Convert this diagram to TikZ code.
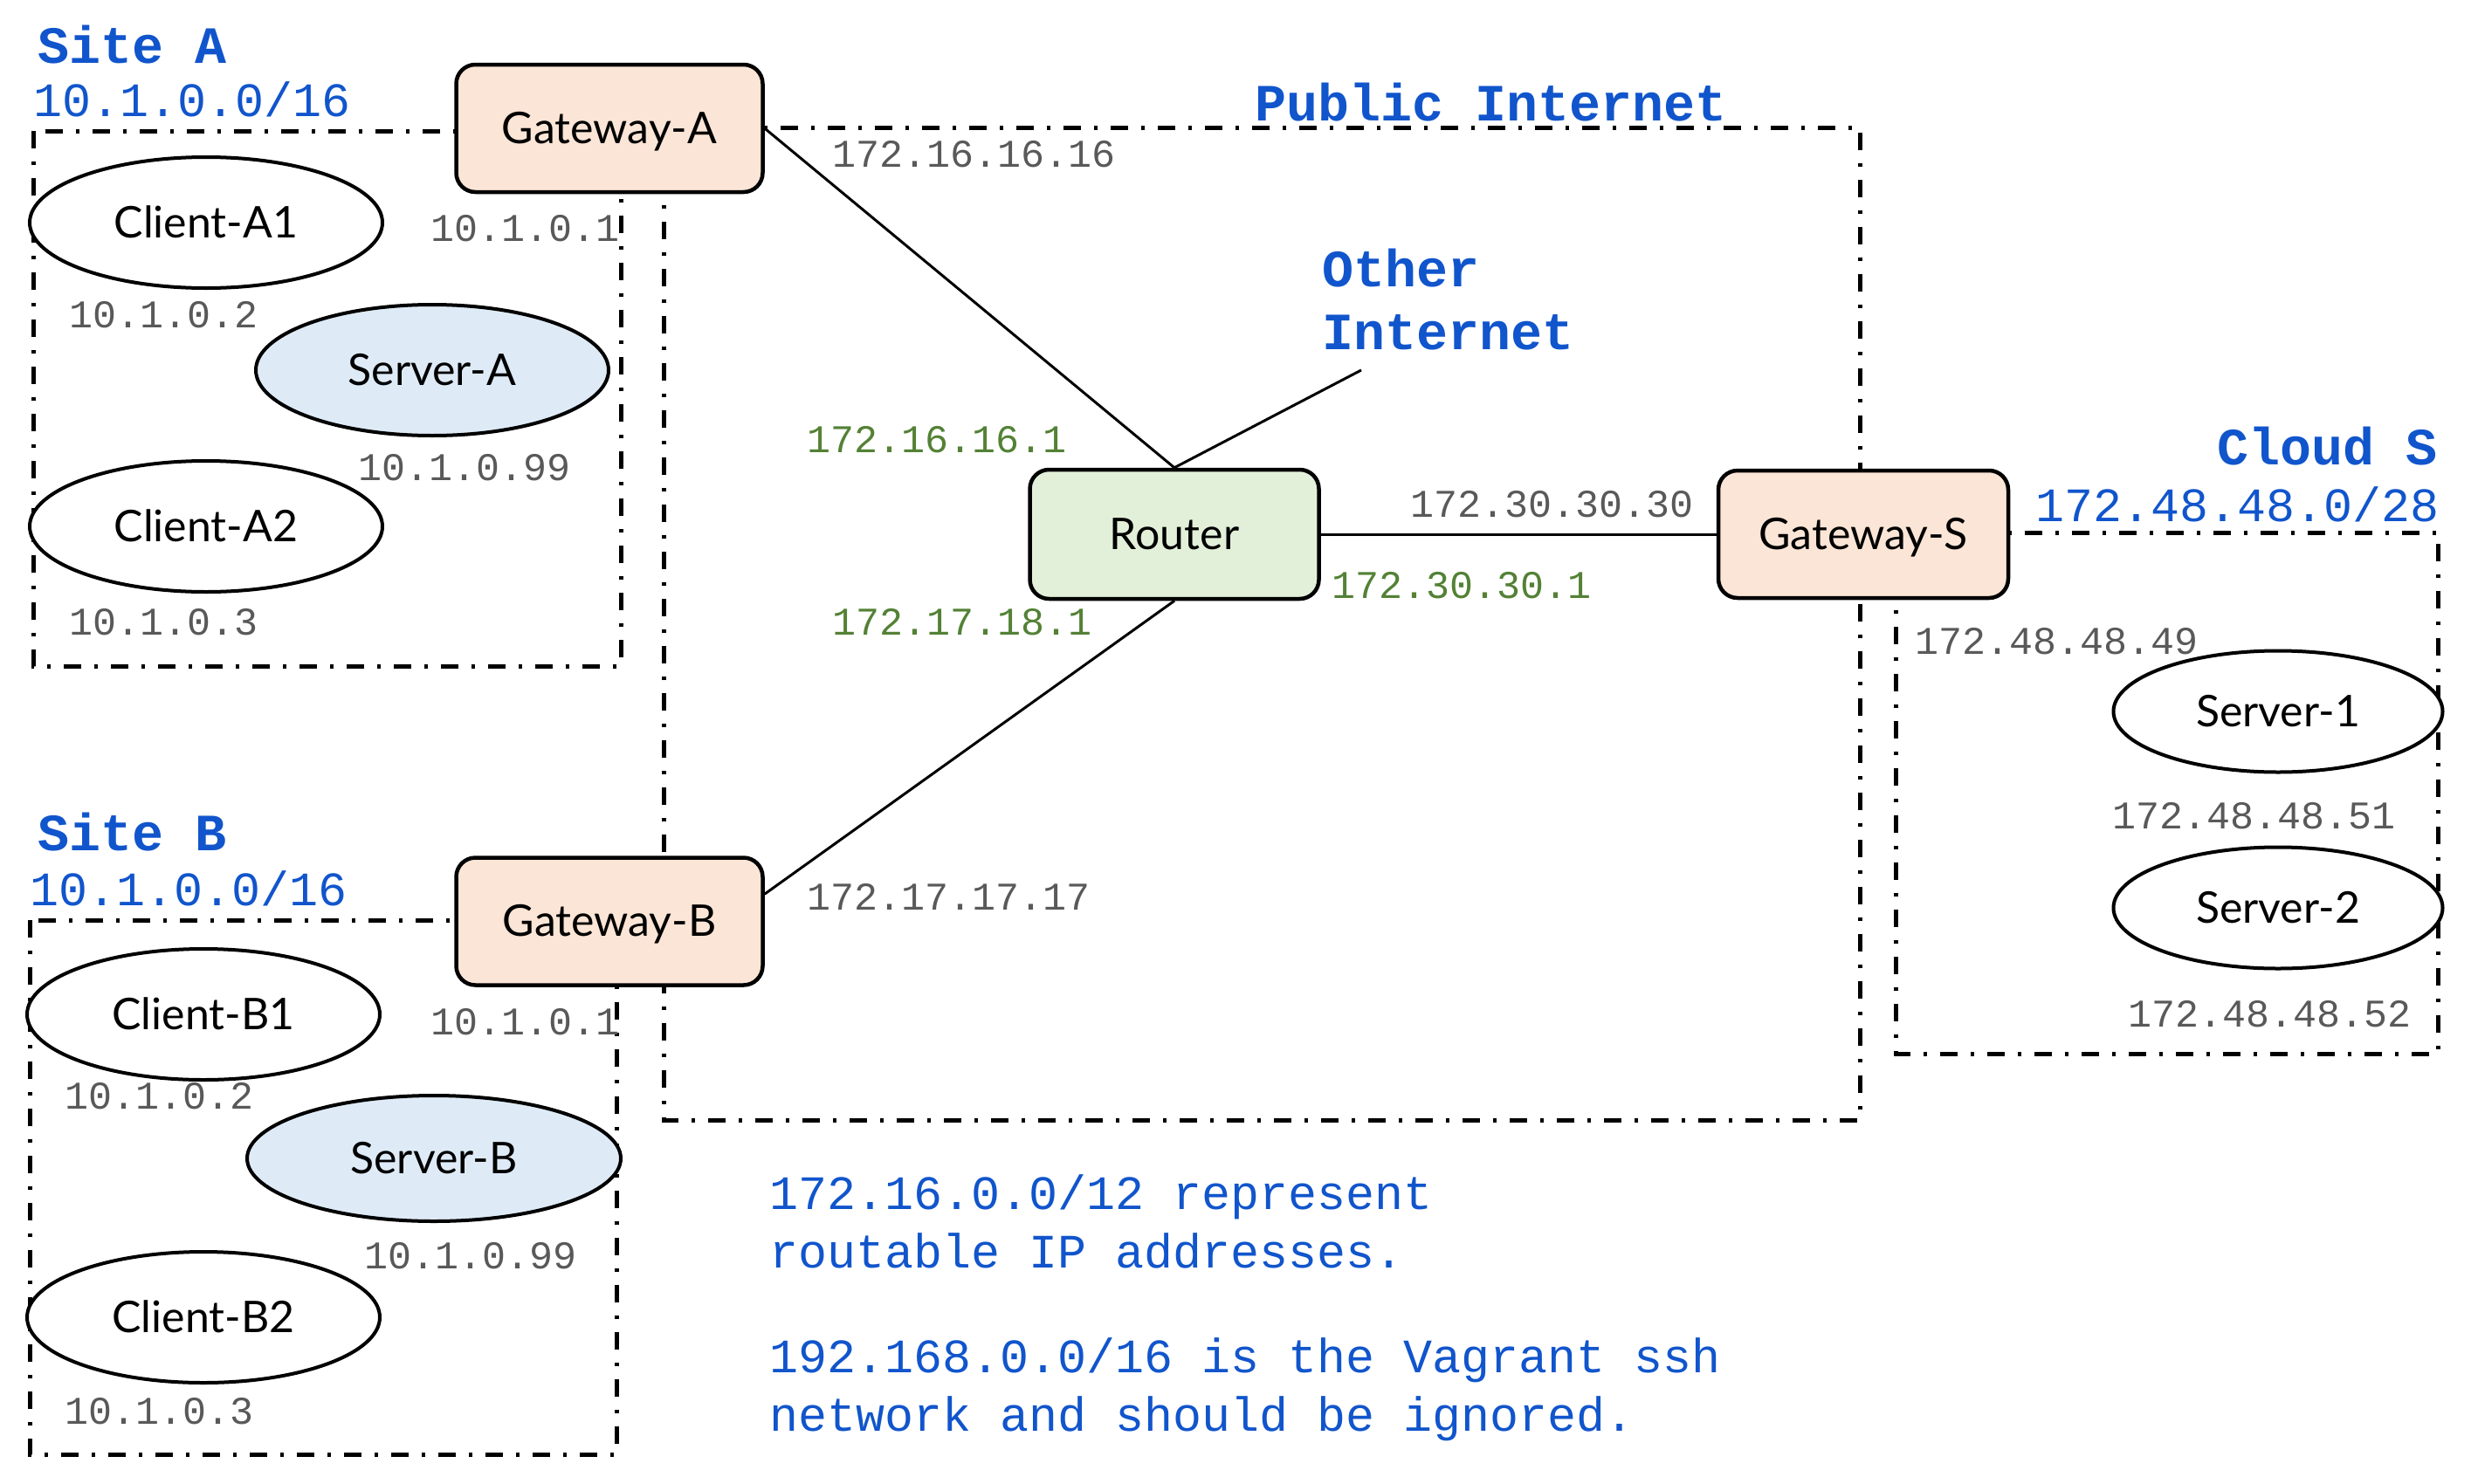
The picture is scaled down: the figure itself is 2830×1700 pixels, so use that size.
\documentclass[tikz,border=0pt]{standalone}
\usepackage{fontspec}
\setmainfont{Lato}
\newfontfamily\ipfont{Liberation Mono}
\usetikzlibrary{positioning,shapes.geometric}

\definecolor{netblue}{HTML}{1155CC}
\definecolor{ipgray}{HTML}{595959}
\definecolor{ipgreen}{HTML}{538135}
\definecolor{gwfill}{HTML}{FBE5D6}
\definecolor{rtfill}{HTML}{E2F0D9}
\definecolor{srvfill}{HTML}{DEEBF7}

\tikzset{
  box/.style={draw, line width=4.5pt, rounded corners=22pt, inner sep=0pt,
    minimum height=146pt, text height=34pt, text depth=0pt,
    font=\fontsize{50}{60}\selectfont},
  gateway/.style={box, fill=gwfill, minimum width=351pt},
  router/.style={box, fill=rtfill, minimum width=331pt, minimum height=148pt},
  host/.style={ellipse, draw, line width=4pt, fill=white, inner sep=0pt,
    minimum width=404pt, minimum height=150pt, text height=34pt, text depth=0pt,
    font=\fontsize{50}{60}\selectfont},
  server/.style={host, fill=srvfill},
  zone/.style={line width=5pt, dash pattern=on 20pt off 15pt on 4pt off 15pt},
  link/.style={line width=3pt},
  ip/.style={text=ipgray, anchor=west, inner sep=0pt, font=\ipfont\fontsize{45}{54}\selectfont},
  ipin/.style={ip, text=ipgreen},
  zonename/.style={text=netblue, anchor=west, inner sep=0pt, align=left,
    font=\ipfont\bfseries\fontsize{60}{72}\selectfont},
  subnet/.style={text=netblue, anchor=west, inner sep=0pt, align=left,
    font=\ipfont\fontsize{55}{67}\selectfont}
}

\begin{document}
\begin{tikzpicture}[x=1pt, y=-1pt]
    \useasboundingbox (0,0) rectangle (2830,1700);

    % zones
    \draw[zone] (38,150) rectangle (711,763); % site A
    \draw[zone] (34,1054) rectangle (706,1666); % site B
    \draw[zone] (760,146) rectangle (2130,1283); % public internet
    \draw[zone] (2171,610) rectangle (2792,1207); % cloud S

    % gateways and router
    \node[gateway] (gwa) at (698,147) {Gateway-A}; % site A gateway
    \node[gateway, below=758pt of gwa] (gwb) {Gateway-B}; % site B gateway
    \node[router] (router) at (1345,612) {Router}; % internet router
    \node[gateway, minimum width=332pt, right=453pt of router] (gws) {Gateway-S}; % cloud gateway
    \coordinate (other) at (1559,424); % towards other internet

    % hosts
    \node[host] (ca1) at (236,255) {Client-A1};
    \node[server] (sa) at (495,424) {Server-A};
    \node[host] (ca2) at (236,603) {Client-A2};
    \node[host] (cb1) at (233,1162) {Client-B1};
    \node[server, minimum width=428pt, minimum height=144pt] (sb) at (497,1327) {Server-B};
    \node[host] (cb2) at (233,1509) {Client-B2};
    \node[host, minimum width=377pt, minimum height=139pt] (s1) at (2609,815) {Server-1};
    \node[host, minimum width=377pt, minimum height=139pt] (s2) at (2609,1040) {Server-2};

    \draw[link] (gwa.east) -- (router.north);
    \draw[link] (router.north) -- (other);
    \draw[link] (router.south) -- (gwb.10);
    \draw[link] (router.east) -- (gws.west);

    % zone names
    \node[zonename] (siteA) at (43,51) {Site A};
    \node[subnet] (netA) at (38,114) {10.1.0.0/16};
    \node[zonename] (siteB) at (43,953) {Site B};
    \node[subnet] (netB) at (34,1018) {10.1.0.0/16};
    \node[zonename] (pub) at (1437,117) {Public Internet};
    \node[zonename] (oth) at (1514,343) {Other\\Internet};
    \node[zonename, anchor=east] (cloud) at (2792,511) {Cloud S};
    \node[subnet, anchor=east] (netS) at (2794,578) {172.48.48.0/28};

    % addresses
    \node[ip] (ipgwa) at (493,262) {10.1.0.1};
    \node[ip] (ipca1) at (79,361) {10.1.0.2};
    \node[ip] (ipsa) at (410,536) {10.1.0.99};
    \node[ip] (ipca2) at (79,713) {10.1.0.3};
    \node[ip] (ipgwb) at (493,1171) {10.1.0.1};
    \node[ip] (ipcb1) at (74,1256) {10.1.0.2};
    \node[ip] (ipsb) at (417,1439) {10.1.0.99};
    \node[ip] (ipcb2) at (74,1617) {10.1.0.3};
    \node[ip] (pubgwa) at (953,177) {172.16.16.16};
    \node[ipin] (rta) at (924,504) {172.16.16.1};
    \node[ipin] (rtb) at (953,713) {172.17.18.1};
    \node[ip] (pubgws) at (1615,578) {172.30.30.30};
    \node[ipin] (rts) at (1525,671) {172.30.30.1};
    \node[ip] (pubgwb) at (924,1027) {172.17.17.17};
    \node[ip] (ipgws) at (2193,735) {172.48.48.49};
    \node[ip] (ips1) at (2419,935) {172.48.48.51};
    \node[ip] (ips2) at (2437,1162) {172.48.48.52};

    % notes
    \node[subnet] (note1) at (881,1399) {172.16.0.0/12 represent\\routable IP addresses.};
    \node[subnet] (note2) at (881,1592) {192.168.0.0/16 is the Vagrant ssh\\network and should be ignored.};
\end{tikzpicture}
\end{document}
